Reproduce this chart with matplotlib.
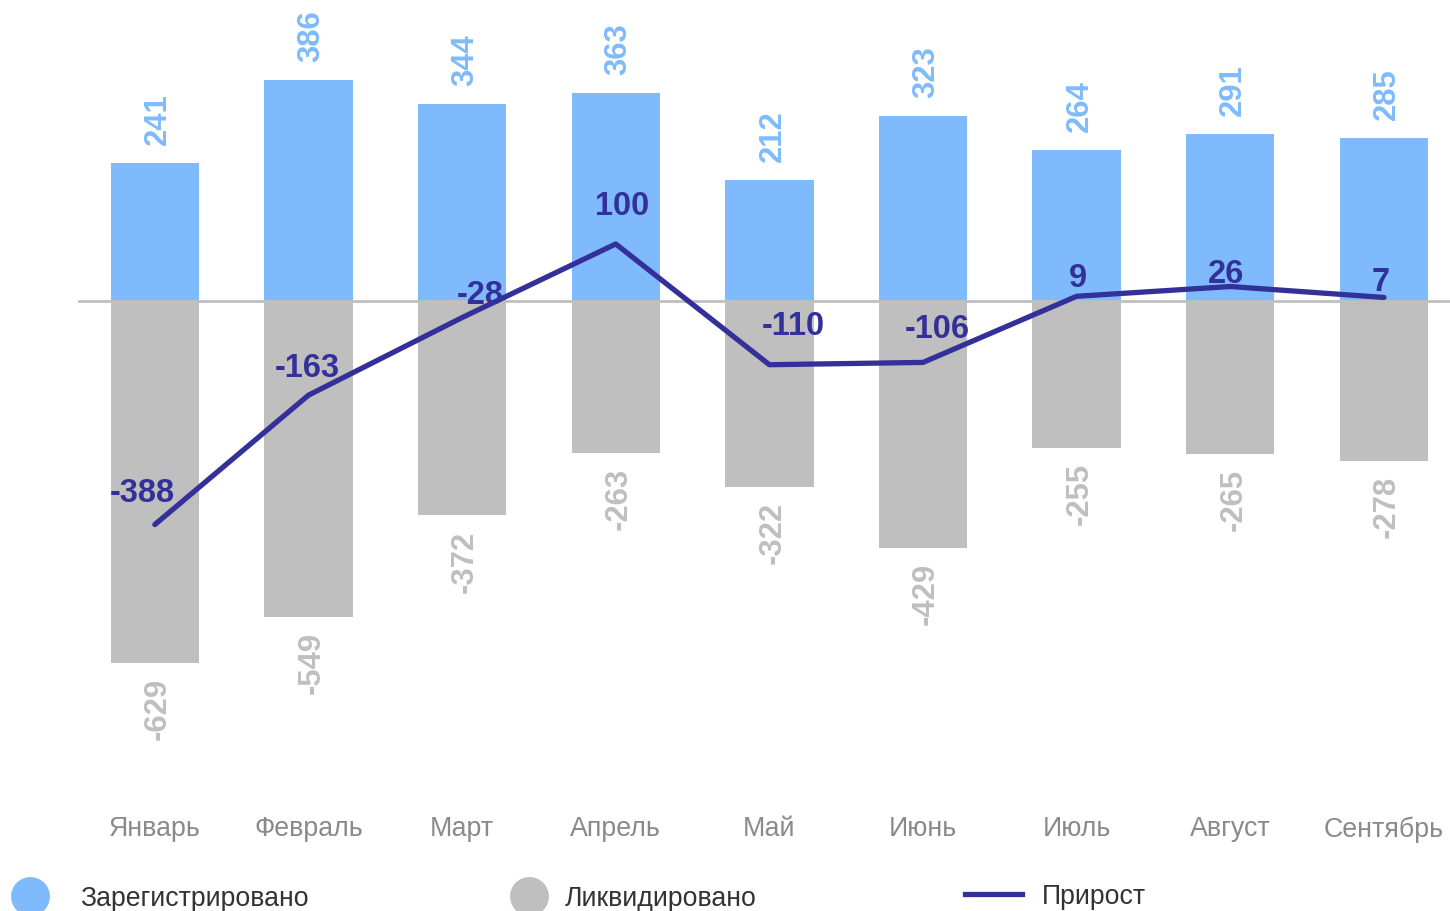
"""Registered vs liquidated companies by month, with net growth line."""

import matplotlib
matplotlib.use("Agg")
import matplotlib.pyplot as plt
from matplotlib.lines import Line2D

plt.rcParams["font.family"] = ["Liberation Sans", "DejaVu Sans"]

months = ["Январь", "Февраль", "Март", "Апрель", "Май", "Июнь", "Июль", "Август", "Сентябрь"]
registered = [241, 386, 344, 363, 212, 323, 264, 291, 285]
liquidated = [-629, -549, -372, -263, -322, -429, -255, -265, -278]
growth = [-388, -163, -28, 100, -110, -106, 9, 26, 7]

# label nudges for the growth line (pixels)
growth_dx = [-13, -1, 18, 6, 24, 14, 1, -4, -3]
growth_dy = [24, 19, 15, 30, 31, 25, 10, 5, 7]

BLUE = "#7fbbfc"
GRAY = "#bfbfbf"
LINE = "#34309a"
MONTH_COLOR = "#8a8a8a"

fig = plt.figure(figsize=(14.5, 9.12), dpi=100)
ax = fig.add_axes([78 / 1450, 0, (1450 - 78) / 1450, 1])
ax.set_xlim(-0.5, 8.43)
ax.set_ylim(-1060, 526)
ax.axis("off")

x = list(range(len(months)))
ax.bar(x, registered, width=0.575, color=BLUE, zorder=2)
ax.bar(x, liquidated, width=0.575, color=GRAY, zorder=2)
ax.axhline(0, color=GRAY, linewidth=2, zorder=3)
ax.plot(x, growth, color=LINE, linewidth=3.8, solid_capstyle="round",
        solid_joinstyle="round", zorder=4)

for i, v in enumerate(registered):
    ax.annotate(str(v), (i, v), xytext=(3, 19), textcoords="offset pixels",
                rotation=90, ha="center", va="bottom", fontsize=22.3,
                fontweight="bold", color=BLUE)
for i, v in enumerate(liquidated):
    ax.annotate(str(v), (i, v), xytext=(3, -14), textcoords="offset pixels",
                rotation=90, ha="center", va="top", fontsize=22.3,
                fontweight="bold", color=GRAY)
for i, v in enumerate(growth):
    ax.annotate(str(v), (i, v), xytext=(growth_dx[i], growth_dy[i]),
                textcoords="offset pixels", ha="center", va="baseline",
                fontsize=23.5, fontweight="bold", color=LINE, zorder=5)

for i, m in enumerate(months):
    ax.text(i, -916.5, m, ha="center", va="center", fontsize=19.3, color=MONTH_COLOR)

# legend: three separate entries spread across the bottom
fs = 19.2
em = fs * 100 / 72
common = dict(loc="center left", frameon=False, fontsize=fs, borderpad=0,
              borderaxespad=0, labelcolor="#333333")
h_reg = Line2D([], [], marker="o", linestyle="", markersize=27, color=BLUE)
h_liq = Line2D([], [], marker="o", linestyle="", markersize=27, color=GRAY)
h_gr = Line2D([], [], color=LINE, linewidth=3.8)
fig.legend([h_reg], ["Зарегистрировано"], bbox_to_anchor=(11 / 1450, 0.0142),
           handlelength=38 / em, handletextpad=31 / em, **common)
fig.legend([h_liq], ["Ликвидировано"], bbox_to_anchor=(510 / 1450, 0.0142),
           handlelength=38 / em, handletextpad=17 / em, **common)
fig.legend([h_gr], ["Прирост"], bbox_to_anchor=(965 / 1450, 0.016),
           handlelength=57 / em, handletextpad=20 / em, **common)

fig.savefig("out.png", dpi=100)
